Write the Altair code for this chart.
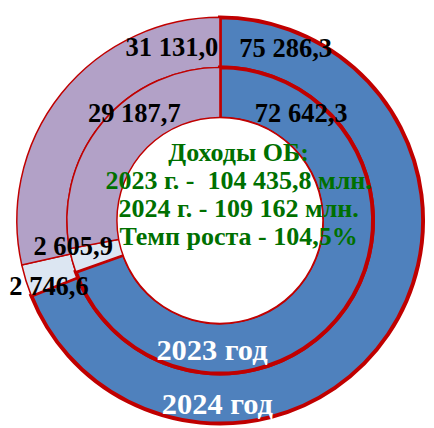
import math
import altair as alt
import pandas as pd

# ---- data ----
segments = ["blue", "light", "purple"]
seg_colors = ["#4F81BD", "#DCE6F2", "#B2A1C7"]
values_2023 = [72642.3, 2605.9, 29187.7]
values_2024 = [75286.3, 2746.6, 31131.0]
labels_2023 = ["72 642,3", "2 605,9", "29 187,7"]
labels_2024 = ["75 286,3", "2 746,6", "31 131,0"]
ring_titles = ["2023 год", "2024 год"]
center_lines = ["Доходы ОБ:", "2023 г. -\u00a0 104 435,8 млн.",
                "2024 г. - 109 162 млн.", "Темп роста - 104,5%"]

# ---- label placement (degrees clockwise from top, radius in px) ----
pos_2023 = [(37.5, 136), (259.8, 152), (321.1, 139)]
pos_2024 = [(21.0, 187), (248.7, 187), (344.4, 182)]
pos_titles = [(183.5, 133), (180.8, 188.5)]

CX, CY = 216, 212.5
R_OUT, R_MID, R_IN = 207, 156, 104
RED = "#C00000"
GREEN = "#007000"
FONT = "Liberation Serif"


def ring_chart(values, r_out, r_in):
    df = pd.DataFrame({"seg": segments, "value": values, "ord": list(range(len(values)))})
    return alt.Chart(df).mark_arc(radius=r_out, radius2=r_in, stroke=RED).encode(
        theta=alt.Theta("value:Q", stack="normalize"),
        order=alt.Order("ord:Q"),
        color=alt.Color("seg:N", scale=alt.Scale(domain=segments, range=seg_colors), legend=None),
        strokeWidth=alt.condition(alt.datum.seg == "blue", alt.value(4), alt.value(1.5)),
        x=alt.value(CX),
        y=alt.value(CY),
    )


outer = ring_chart(values_2024, R_OUT, R_MID)
inner = ring_chart(values_2023, R_MID, R_IN)

hole = alt.Chart(pd.DataFrame({"k": [0]})).mark_arc(
    radius=R_IN + 1, radius2=0, theta=0, theta2=2 * math.pi,
    fill="white", stroke=RED, strokeWidth=1.5
).encode(x=alt.value(CX), y=alt.value(CY))

rows = []
for lab, (a, r) in zip(labels_2023 + labels_2024, pos_2023 + pos_2024):
    rows.append({"label": lab, "a": a, "r": r, "col": "black", "fs": 27})
for lab, (a, r) in zip(ring_titles, pos_titles):
    rows.append({"label": lab, "a": a, "r": r, "col": "white", "fs": 31})
lab_df = pd.DataFrame(rows)
lab_df["px"] = CX + lab_df["r"] * lab_df["a"].apply(lambda d: math.sin(math.radians(d)))
lab_df["py"] = CY - lab_df["r"] * lab_df["a"].apply(lambda d: math.cos(math.radians(d)))

labels = alt.Chart(lab_df).mark_text(
    font=FONT, fontWeight="bold", align="center", baseline="middle"
).encode(
    x=alt.X("px:Q", scale=None),
    y=alt.Y("py:Q", scale=None),
    text="label:N",
    color=alt.Color("col:N", scale=None),
    size=alt.Size("fs:Q", scale=None),
)

center = alt.Chart(pd.DataFrame({"t": ["\n".join(center_lines)]})).mark_text(
    font=FONT, fontWeight="bold", fontSize=26.5, align="center", baseline="middle",
    lineBreak="\n", lineHeight=28.5, color=GREEN
).encode(text="t:N", x=alt.value(235), y=alt.value(144))

chart = alt.layer(outer, inner, hole, labels, center).properties(
    width=418, height=412,
    autosize=alt.AutoSizeParams(type="none"),
    padding={"left": 0, "top": 0, "right": 8, "bottom": 8},
).configure_view(stroke=None)

chart.save("out.html", embed_options={"renderer": "svg", "actions": False})
